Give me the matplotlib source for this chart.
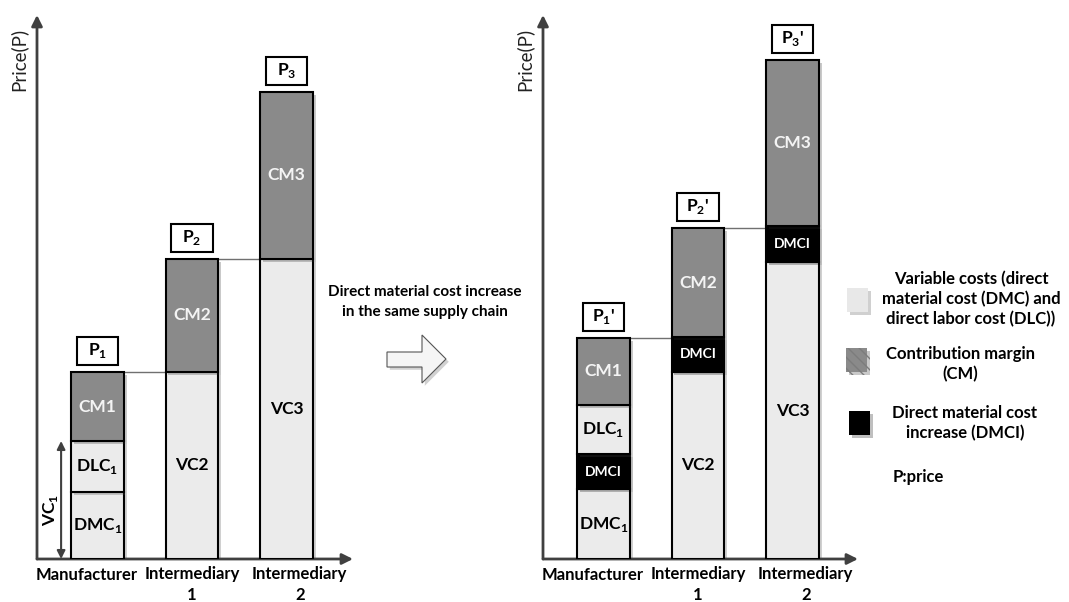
import matplotlib
matplotlib.use("Agg")
import matplotlib.pyplot as plt
import matplotlib.patches as mpatches
import matplotlib.patheffects as pe

plt.rcParams['font.family'] = ['Lato', 'DejaVu Sans']
plt.rcParams['mathtext.fontset'] = 'custom'
plt.rcParams['mathtext.rm'] = 'Lato'
plt.rcParams['mathtext.bf'] = 'Lato:bold'

# data (price units)
categories = ['Manufacturer', 'Intermediary\n1', 'Intermediary\n2']

before_values = [[6.7, 5.1, 6.9], [18.7, 11.3], [30.0, 16.7]]
before_kinds = [['vc', 'vc', 'cm'], ['vc', 'cm'], ['vc', 'cm']]
before_labels = [[r'DMC$_\mathbf{1}$', r'DLC$_\mathbf{1}$', 'CM1'], ['VC2', 'CM2'], ['VC3', 'CM3']]
before_prices = [r'P$_\mathbf{1}$', r'P$_\mathbf{2}$', r'P$_\mathbf{3}$']

after_values = [[7.0, 3.5, 4.9, 6.7], [18.7, 3.5, 10.9], [29.7, 3.6, 16.6]]
after_kinds = [['vc', 'dmci', 'vc', 'cm'], ['vc', 'dmci', 'cm'], ['vc', 'dmci', 'cm']]
after_labels = [[r'DMC$_\mathbf{1}$', 'DMCI', r'DLC$_\mathbf{1}$', 'CM1'], ['VC2', 'DMCI', 'CM2'], ['VC3', 'DMCI', 'CM3']]
after_prices = [r"P$_\mathbf{1}$'", r"P$_\mathbf{2}$'", r"P$_\mathbf{3}$'"]

fill = {'vc': '#ebebeb', 'cm': '#8a8a8a', 'dmci': '#000000'}
txtc = {'vc': 'black', 'cm': '#f4f4f4', 'dmci': 'white'}
txts = {'vc': 12.5, 'cm': 12.5, 'dmci': 10}

W, H = 1069, 602
fig = plt.figure(figsize=(W / 100, H / 100), dpi=100)
axc = '#404040'
bw = 0.56
shadow = [pe.SimplePatchShadow(offset=(2, -2), alpha=0.25), pe.Normal()]


def panel(left_px, right_px, values, kinds, labels, prices):
    ax = fig.add_axes([left_px / W, (H - 559) / H, (right_px - left_px) / W, (559 - 15) / H])
    span = (right_px - left_px) / 94.5
    ax.set_xlim(-0.64, span - 0.64)
    ax.set_ylim(0, 54.4)
    ax.axis('off')
    ax.annotate('', xy=(0, 1), xytext=(0, 0), xycoords='axes fraction',
                arrowprops=dict(arrowstyle='-|>', color=axc, lw=2, mutation_scale=16, shrinkA=0, shrinkB=0))
    ax.annotate('', xy=(1, 0), xytext=(0, 0), xycoords='axes fraction',
                arrowprops=dict(arrowstyle='-|>', color=axc, lw=2, mutation_scale=16, shrinkA=0, shrinkB=0))
    tops = []
    for i, (vals, ks, lbs) in enumerate(zip(values, kinds, labels)):
        bottom = 0
        for v, k, lb in zip(vals, ks, lbs):
            bars = ax.bar(i, v, bottom=bottom, width=bw, color=fill[k], edgecolor='black', lw=1.5, zorder=3)
            for b in bars:
                b.set_path_effects(shadow)
            ax.text(i, bottom + v / 2, lb, ha='center', va='center', color=txtc[k],
                    fontsize=txts[k], fontweight='bold', zorder=4)
            bottom += v
        tops.append(bottom)
        box = mpatches.Rectangle((i - 0.22, bottom + 0.75), 0.44, 2.8, fc='white', ec='black', lw=1.5,
                                 zorder=3, clip_on=False)
        ax.add_patch(box)
        ax.text(i, bottom + 0.75 + 1.4, prices[i], ha='center', va='center', fontsize=12.5,
                fontweight='bold', zorder=4)
    for i in range(len(tops) - 1):
        ax.plot([i + bw / 2, i + 1 - bw / 2], [tops[i], tops[i]], color='#707070', lw=1, zorder=2)
    offs = [-0.11, 0.0, 0.14]
    for i, c in enumerate(categories):
        ax.text(i + offs[i], -0.75, c, ha='center', va='top', fontsize=12, fontweight='bold',
                linespacing=1.35, clip_on=False)
    ax.text(-0.84, 50.0, 'Price(P)', rotation=90, ha='center', va='center', fontsize=13.5,
            color='#222222', clip_on=False)
    return ax


ax1 = panel(37, 353, before_values, before_kinds, before_labels, before_prices)
ax2 = panel(543, 858, after_values, after_kinds, after_labels, after_prices)

# VC1 span on the left panel
vc1 = sum(before_values[0][:2])
ax1.annotate('', xy=(-0.385, vc1), xytext=(-0.385, 0),
             arrowprops=dict(arrowstyle='<|-|>', color=axc, lw=1.5, mutation_scale=12, shrinkA=0, shrinkB=0))
ax1.text(-0.5, 4.9, r'VC$_\mathbf{1}$', rotation=90, ha='center', va='center', fontsize=12.5, fontweight='bold')

# overlay for the middle note and legend
ov = fig.add_axes([0, 0, 1, 1])
ov.set_xlim(0, W)
ov.set_ylim(H, 0)
ov.axis('off')
ov.patch.set_alpha(0)

ov.text(425, 302, 'Direct material cost increase\nin the same supply chain', ha='center', va='center',
        fontsize=11, fontweight='bold', linespacing=1.5)
arrow = mpatches.Polygon([(387, 352), (422, 352), (422, 335), (446, 359), (422, 383), (422, 367), (387, 367)],
                         closed=True, fc='#f5f5f5', ec='#555555', lw=0.8)
arrow.set_path_effects(shadow)
ov.add_patch(arrow)

leg = [
    ('#e8e8e8', None, 'Variable costs (direct\nmaterial cost (DMC) and\ndirect labor cost (DLC))', 847, 288, 971, 299),
    ('#8a8a8a', '\\\\\\', 'Contribution margin\n(CM)', 846, 348, 960, 364),
    ('#000000', None, 'Direct material cost\nincrease (DMCI)', 849, 411, 965, 423),
]
for fc, hatch, label, sx, sy, tx, ty in leg:
    sq = mpatches.Rectangle((sx, sy), 21, 24, fc=fc, ec='#7c7c7c' if hatch else fc, lw=0, hatch=hatch)
    sq.set_path_effects(shadow)
    ov.add_patch(sq)
    ov.text(tx, ty, label, ha='center', va='center', fontsize=12, fontweight='bold', linespacing=1.3)
ov.text(893, 477, 'P:price', ha='left', va='center', fontsize=12, fontweight='bold')

fig.savefig('out.png', dpi=100, facecolor='white')
